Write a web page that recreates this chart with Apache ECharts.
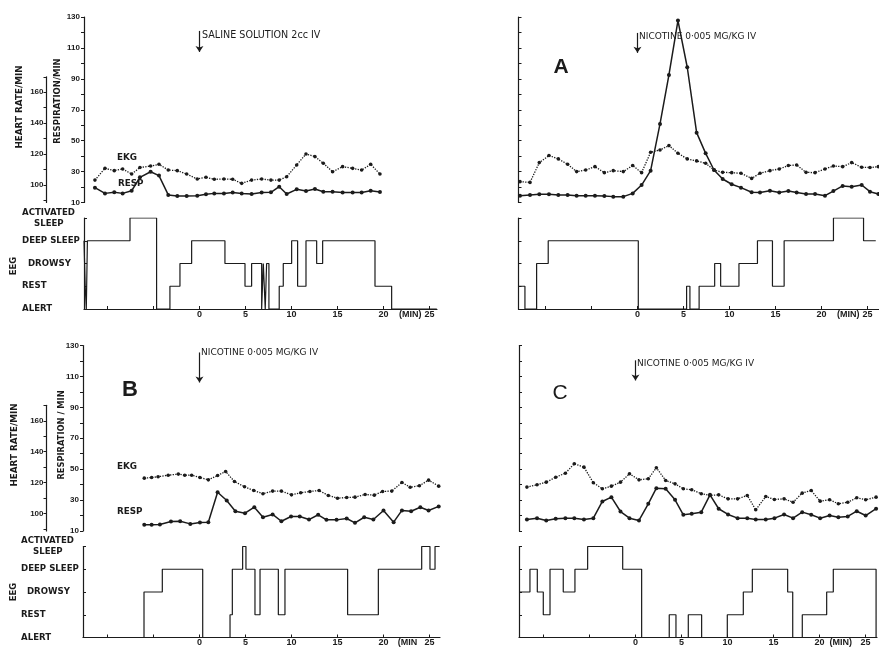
<!DOCTYPE html>
<html><head><meta charset="utf-8">
<script src="https://cdn.jsdelivr.net/npm/echarts@6/dist/echarts.min.js"></script>
<style>html,body{margin:0;padding:0;background:#fff}#c{width:879px;height:649px}</style>
</head><body><div id="c"></div>
<script>
// ---------- DATA (minutes relative to injection; EKG in beats/min, RESP in breaths/min) ----------
const eegLevels = ['ALERT', 'REST', 'DROWSY', 'DEEP SLEEP', 'ACTIVATED SLEEP'];
const respTicks = [10, 20, 30, 40, 50, 60, 70, 80, 90, 100, 110, 120, 130];
const hrTicks = [90, 100, 110, 120, 130, 140, 150, 160, 170];
const hrLabels = [100, 120, 140, 160];
const minTicks = [-10, -5, 0, 5, 10, 15, 20, 25];
const minLabels = [0, 5, 10, 15, 20, 25];

// Saline control (top left)
const tlTime = [-11.36,-10.27,-9.26,-8.35,-7.37,-6.47,-5.31,-4.4,-3.39,-2.41,-1.39,-0.24,0.71,1.61,2.66,3.61,4.59,5.67,6.76,7.77,8.67,9.48,10.57,11.58,12.55,13.46,14.47,15.56,16.65,17.63,18.61,19.62];
const tlEkg = [103.2,110.8,109.3,110.4,107.1,111.3,112.3,113.4,109.7,109.3,107.1,103.9,105,103.7,103.9,103.7,101.1,103.2,103.9,103.2,103.2,105.4,113,120.1,118.4,114.1,108.6,111.9,110.8,109.7,113.4,107.1];
const tlResp = [19.6,15.9,16.6,15.9,17.6,26.3,29.9,27.4,14.9,14.2,14.2,14.4,15.3,15.9,15.9,16.4,15.9,15.5,16.4,16.6,20.2,15.5,18.5,17.4,18.7,17.0,17.0,16.4,16.4,16.4,17.6,16.8];
const tlEegTime = [-12.55,-12.42,-12.3,-12.18,-7.55,-4.66,-3.21,-2.12,-0.85,2.77,4.95,5.67,6.76,6.94,7.15,7.3,7.55,8.67,9.11,10.02,10.67,11.58,12.74,13.39,19.08,20.89,25.8];
const tlEegLevel = [3,1,0,3,4,0,1,2,3,2,1,2,0,2,0,2,0,1,2,3,1,3,2,3,1,0,0];

// A (top right)
const aTime = [-12.77,-11.68,-10.67,-9.62,-8.6,-7.59,-6.61,-5.63,-4.62,-3.6,-2.63,-1.54,-0.52,0.45,1.43,2.45,3.42,4.4,5.41,6.43,7.41,8.32,9.26,10.24,11.25,12.41,13.32,14.4,15.41,16.4,17.3,18.32,19.3,20.38,21.29,22.3,23.28,24.37,25.27,26.18];
const aEkg = [102.2,101.7,114.5,119.1,116.9,113.4,108.7,109.7,111.9,108,109.3,108.7,112.6,108,121.2,122.7,125.5,120.6,116.9,115.6,114.1,109.7,108.2,108,107.6,104.3,107.6,109.3,110.4,112.6,113,108.2,108,110.4,112.3,111.9,114.5,111.5,111.3,111.9];
const aResp = [14.4,14.9,15.3,15.3,14.9,14.9,14.4,14.4,14.4,14.2,13.8,13.8,15.9,21.3,30.6,60.8,92.5,127.7,97.5,55.2,41.8,31,25.2,21.8,19.6,16.6,16.4,17.6,16.4,17.4,16.4,15.5,15.5,14.4,17.4,20.7,20.2,21.3,17,15.5];
const aEegTime = [-12.93,-12.23,-10.96,-9.7,0.09,5.34,5.7,6.7,8.39,9.04,11.03,13.04,14.67,15.94,21.3,24.57,25.9];
const aEegLevel = [1,0,2,3,0,1,0,1,2,1,2,3,1,3,4,3,3];

// B (bottom left)
const bEkgTime = [-6.0,-5.2,-4.5,-3.4,-2.3,-1.6,-0.85,0.05,0.96,1.97,2.84,3.8,4.9,5.9,6.9,7.95,8.9,10.0,11.0,12.0,13.0,14.0,15.0,16.0,16.9,18.0,19.0,19.9,20.9,22.0,22.9,23.9,24.9,26.0];
const bEkg = [122.9,123.3,123.8,124.8,125.5,124.8,124.8,123.3,121.8,124.6,127.2,120.7,117.3,114.9,112.8,114.5,114.5,112.1,113.4,114.3,114.9,111.7,109.9,110.4,110.6,112.3,111.9,114.3,114.5,120.1,117.0,118,121.6,117.7];
const bRespTime = [-6.0,-5.2,-4.3,-3.1,-2.1,-1.0,0.05,0.96,1.97,2.96,3.9,4.95,5.96,6.9,7.95,8.9,9.95,10.9,11.9,12.9,13.8,14.9,16.0,16.9,17.9,18.9,20.0,21.1,22.0,23.0,24.0,24.9,26.0];
const bResp = [14.0,14.0,14.2,16.1,16.3,14.6,15.5,15.7,35.1,29.7,22.8,21.5,25.4,18.9,20.7,16.3,19.4,19.4,17.4,20.5,17.2,17.2,18.1,15.3,18.9,17.4,23.3,15.7,23.3,22.8,25.4,23.3,25.9];
const bEegTime = [-12.66,-6.03,-4.04,0.35,3.32,3.57,4.69,5.05,6.03,6.58,8.57,9.29,16.1,19.44,24.15,25.05,25.6,26.1];
const bEegLevel = [0,2,3,0,1,3,4,3,1,3,1,3,1,3,4,3,4,4];

// C (bottom right)
const cTime = [-11.8,-10.7,-9.7,-8.67,-7.62,-6.65,-5.6,-4.58,-3.6,-2.62,-1.63,-0.65,0.38,1.39,2.27,3.28,4.3,5.2,6.11,7.15,8.1,9.04,10.06,11.1,12.15,13.07,14.16,15.1,16.15,17.13,18.12,19.1,20.07,21.1,22.05,23.07,24.05,25.02,26.15];
const cEkg = [117.1,118.6,120.3,123.5,126.1,132.2,130,119.9,116,117.7,120.3,125.7,121.8,122.5,129.6,121.4,119.2,116,115.4,112.8,111.7,112.1,109.5,109.5,111.7,102.4,111,109.1,109.5,107.3,113.2,114.9,108,108.9,106.3,107.3,110.2,108.9,110.6];
const cResp = [17.4,18.3,16.8,17.9,18.3,18.3,17.4,18.3,29.1,31.9,22.6,18.3,16.8,27.6,37.7,37.3,30.2,20.5,21.1,22.2,33.4,24.4,20.7,18.3,18.3,17.4,17.4,18.3,20.7,18.3,22.2,20.5,18.3,20,18.9,19.4,22.8,20,24.4];
const cEegTime = [-12.66,-11.47,-10.67,-10.02,-9.29,-7.85,-6.58,-5.2,-1.39,0.67,3.67,4.4,5.74,7.19,9.98,11.72,12.7,16.54,17.09,18.13,20.78,21.5,26.15];
const cEegLevel = [2,3,2,1,3,2,3,4,3,0,1,0,1,0,1,2,3,2,0,1,2,3,0];

// ---------- LAYOUT ----------
const INK = '#1b1b1b';
const FONT = '"Liberation Sans", Arial, sans-serif';
const WIDE = '"DejaVu Sans", "Liberation Sans", sans-serif';
const HR_SHIFT = 78.7;          // heart-rate scale sits 78.7 units above respiration scale
const UP_H = 185.5, EEG_H = 91;

const panels = [
  {left:84, width:353, xMin:-12.55, xMax:25.82, upTop:17, eegTop:218, labels:true,
   ekgT:tlTime, ekg:tlEkg, respT:tlTime, resp:tlResp, eegT:tlEegTime, eeg:tlEegLevel,
   minPos:22.9, minText:'(MIN)', arrow:[121,107.4]},
  {left:518.5, width:360.5, xMin:-12.93, xMax:26.25, upTop:17, eegTop:218, labels:false,
   ekgT:aTime, ekg:aEkg, respT:aTime, resp:aResp, eegT:aEegTime, eeg:aEegLevel,
   minPos:22.9, minText:'(MIN)', arrow:[119.7,106.8]},
  {left:83, width:357, xMin:-12.66, xMax:26.14, upTop:345.5, eegTop:546.5, labels:true,
   ekgT:bEkgTime, ekg:bEkg, respT:bRespTime, resp:bResp, eegT:bEegTime, eeg:bEegLevel,
   minPos:22.6, minText:'(MIN', arrow:[125.5,106.1]},
  {left:519, width:358, xMin:-12.66, xMax:26.25, upTop:345.5, eegTop:546.5, labels:false,
   ekgT:cTime, ekg:cEkg, respT:cTime, resp:cResp, eegT:cEegTime, eeg:cEegLevel,
   minPos:22.3, minText:'(MIN)', arrow:[120.4,107.4]}
];

const zip = (xs, ys) => xs.map((x, i) => [x, ys[i]]);
const lbl = (extra) => Object.assign({color:INK, fontFamily:FONT, fontWeight:'bold', fontSize:8}, extra);
const line = {show:true, onZero:false, lineStyle:{color:INK, width:1.2}};

const grid = [], xAxis = [], yAxis = [], series = [];
panels.forEach(p => {
  const gU = grid.length;
  grid.push({left:p.left, top:p.upTop, width:p.width, height:UP_H, outerBoundsMode:'none'});
  const gE = grid.length;
  grid.push({left:p.left, top:p.eegTop, width:p.width, height:EEG_H, outerBoundsMode:'none'});

  const xU = xAxis.length;
  xAxis.push({type:'value', gridIndex:gU, min:p.xMin, max:p.xMax, show:false});
  const xE = xAxis.length;
  const labVals = minLabels.concat([p.minPos]).sort((a, b) => a - b);
  xAxis.push({type:'value', gridIndex:gE, min:p.xMin, max:p.xMax, position:'bottom',
    axisLine:line,
    axisTick:{show:true, inside:true, length:3, customValues:minTicks, lineStyle:{color:INK}},
    axisLabel:lbl({show:true, fontSize:9, margin:1, customValues:labVals, hideOverlap:false,
      formatter: v => Math.abs(v - p.minPos) < 0.01 ? p.minText : String(v)}),
    splitLine:{show:false}});

  const yR = yAxis.length;
  yAxis.push({type:'value', gridIndex:gU, min:10, max:130, interval:10, position:'left',
    axisLine:line,
    axisTick:{show:true, inside:!p.labels, length:3, lineStyle:{color:INK}},
    axisLabel:lbl({show:p.labels, margin:4, formatter: v => ((Math.round(v) - 10) % 20 === 0 ? String(v) : '')}),
    splitLine:{show:false}});
  const yH = yAxis.length;
  yAxis.push({type:'value', gridIndex:gU, min:10 + HR_SHIFT, max:130 + HR_SHIFT, show:false});
  const yE = yAxis.length;
  yAxis.push({type:'value', gridIndex:gE, min:0, max:4, interval:1, position:'left',
    axisLine:line,
    axisTick:{show:true, inside:true, length:3, lineStyle:{color:INK}},
    axisLabel:lbl({show:p.labels, align:'left', margin:62, lineHeight:11, fontFamily:WIDE, fontSize:8.6,
      formatter: v => {
        const s = eegLevels[Math.round(v)];
        if (s === 'ACTIVATED SLEEP') return 'ACTIVATED\n    SLEEP';
        if (s === 'DROWSY') return '  ' + s;
        return s;
      }}),
    splitLine:{show:false}});

  if (p.labels) {
    const gH = grid.length;
    grid.push({left:46.5, top:p.upTop + 59.8, width:1, height:125.7, outerBoundsMode:'none'});
    xAxis.push({type:'value', gridIndex:gH, min:0, max:1, show:false});
    yAxis.push({type:'value', gridIndex:gH, min:10 + HR_SHIFT, max:170, position:'left',
      axisLine:line,
      axisTick:{show:true, length:3, customValues:hrTicks, lineStyle:{color:INK}},
      axisLabel:lbl({show:true, margin:3, customValues:hrLabels}),
      splitLine:{show:false}});
  }

  series.push({type:'line', xAxisIndex:xU, yAxisIndex:yH, data:zip(p.ekgT, p.ekg),
    symbol:'circle', symbolSize:3.6, showSymbol:true, silent:true,
    itemStyle:{color:INK}, lineStyle:{color:INK, width:1.3, type:'dotted'}, z:3});
  series.push({type:'line', xAxisIndex:xU, yAxisIndex:yR, data:zip(p.respT, p.resp),
    symbol:'circle', symbolSize:4, showSymbol:true, silent:true,
    itemStyle:{color:INK}, lineStyle:{color:INK, width:1.5}, z:4,
    markLine:{silent:true, animation:false, symbol:['none', 'arrow'], symbolSize:6,
      lineStyle:{color:INK, width:1.2, type:'solid'}, label:{show:false},
      data:[[{coord:[0, p.arrow[0]]}, {coord:[0, p.arrow[1]]}]]}});
  series.push({type:'line', xAxisIndex:xE, yAxisIndex:yE, data:zip(p.eegT, p.eeg),
    step:'end', symbol:'none', showSymbol:false, silent:true,
    lineStyle:{color:INK, width:1.2}, z:5});
});

// ---------- TEXT ANNOTATIONS ----------
function txt(x, y, text, size, opts) {
  opts = opts || {};
  return {type:'text', x:x, y:y, rotation:opts.rot || 0, silent:true, z:10,
    style:{text:text, x:0, y:0, fill:INK,
      font:(opts.weight || 'bold') + ' ' + size + 'px ' + (opts.family || WIDE),
      align:opts.align || 'left', textAlign:opts.align || 'left',
      verticalAlign:'middle', textVerticalAlign:'middle'}};
}
const R90 = Math.PI / 2;
const graphic = [
  // top left
  txt(20, 107, 'HEART RATE/MIN', 8.8, {rot:R90, align:'center'}),
  txt(58, 101, 'RESPIRATION/MIN', 8.5, {rot:R90, align:'center'}),
  txt(117, 158, 'EKG', 8.8),
  txt(118, 184, 'RESP', 8.8),
  txt(202, 35, 'SALINE SOLUTION 2cc IV', 9.6, {weight:'normal'}),
  txt(14, 266, 'EEG', 8.5, {rot:R90, align:'center'}),
  // A
  txt(561, 67, 'A', 21, {align:'center', family:FONT}),
  txt(639, 37, 'NICOTINE 0·005 MG/KG IV', 9, {weight:'normal'}),
  // B
  txt(15, 445, 'HEART RATE/MIN', 8.8, {rot:R90, align:'center'}),
  txt(62, 435, 'RESPIRATION / MIN', 8.3, {rot:R90, align:'center'}),
  txt(117, 467, 'EKG', 8.8),
  txt(117, 512, 'RESP', 8.8),
  txt(130, 390, 'B', 22, {align:'center', family:FONT}),
  txt(201, 353, 'NICOTINE 0·005 MG/KG IV', 9, {weight:'normal'}),
  txt(14, 592, 'EEG', 8.5, {rot:R90, align:'center'}),
  // C
  txt(560, 393, 'C', 21, {align:'center', weight:'normal', family:FONT}),
  txt(637, 364, 'NICOTINE 0·005 MG/KG IV', 9, {weight:'normal'})
];

const chart = echarts.init(document.getElementById('c'), null, {renderer:'canvas'});
chart.setOption({
  animation:false,
  backgroundColor:'#ffffff',
  textStyle:{fontFamily:FONT},
  grid:grid, xAxis:xAxis, yAxis:yAxis, series:series, graphic:graphic
});
</script>
</body></html>
